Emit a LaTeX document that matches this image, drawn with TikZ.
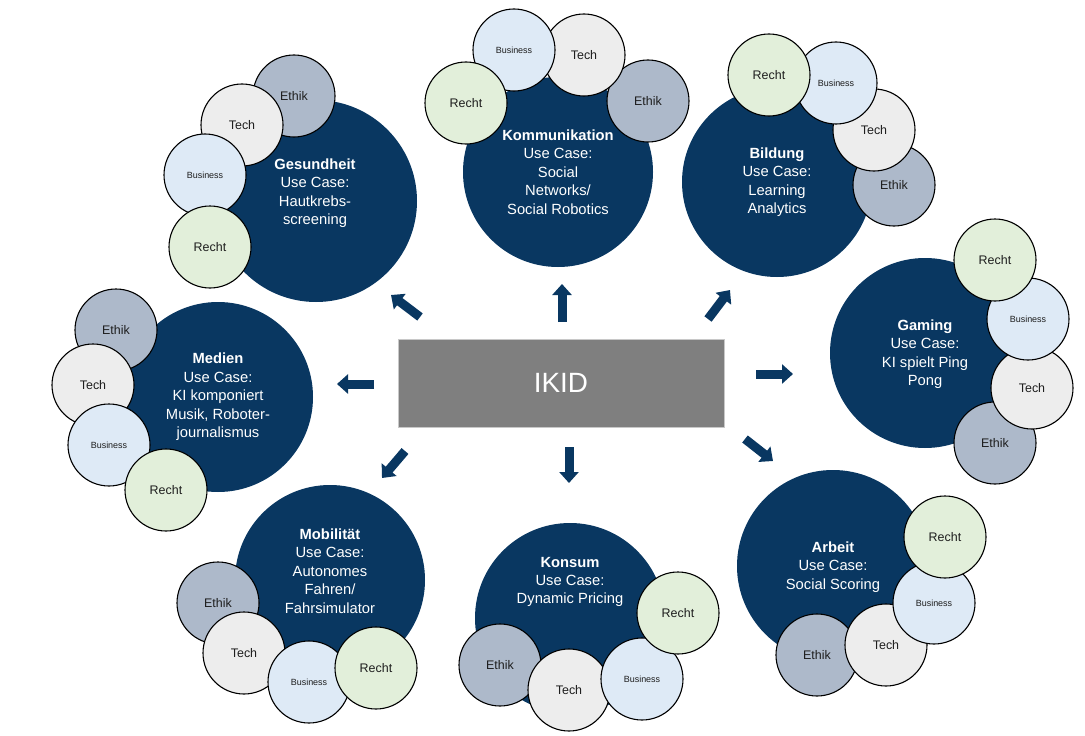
\documentclass[tikz,border=0pt]{standalone}
\usepackage{fontspec}
\setmainfont{Liberation Sans}
\usetikzlibrary{arrows.meta}
\definecolor{cNavy}{RGB}{9,55,97}
\definecolor{cRecht}{RGB}{226,239,218}
\definecolor{cBiz}{RGB}{222,234,246}
\definecolor{cTech}{RGB}{237,237,237}
\definecolor{cEthik}{RGB}{173,185,202}
\definecolor{cBox}{RGB}{127,127,127}
\definecolor{cBoxLine}{RGB}{200,200,200}
\definecolor{cLabel}{RGB}{30,30,30}
\tikzset{
  big/.style={circle, fill=cNavy, minimum size=190bp, inner sep=0pt},
  bigtext/.style={text=white, align=center, font=\fontsize{14.8}{18.5}\selectfont},
  smallc/.style={circle, draw=black, line width=1.1bp, minimum size=82bp, inner sep=0pt, text=cLabel, font=\fontsize{12.5}{14}\selectfont},
  rechtc/.style={smallc, fill=cRecht},
  bizc/.style={smallc, fill=cBiz, font=\fontsize{9}{10}\selectfont},
  techc/.style={smallc, fill=cTech},
  ethikc/.style={smallc, fill=cEthik},
  arr/.style={line width=9bp, draw=cNavy, -{Triangle[length=11bp, width=19bp]}},
}
\begin{document}
\begin{tikzpicture}[x=1bp, y=-1bp]
\useasboundingbox (0,0) rectangle (1085,736);

% big circles
\node[big, minimum size=202bp] (ges) at (316,201) {};
\node[big] (kom) at (558,172) {};
\node[big] (bil) at (777,182) {};
\node[big] (gam) at (925,353) {};
\node[big] (med) at (218,397) {};
\node[big] (mob) at (330,580) {};
\node[big] (kon) at (570,618) {};
\node[big, minimum size=192bp] (arb) at (833,566) {};

% texts of big circles
\node[bigtext] (gesT) at (315,193) {\textbf{Gesundheit}\\Use Case:\\Hautkrebs-\\screening};
\node[bigtext] (komT) at (558,172) {\textbf{Kommunikation}\\Use Case:\\Social\\Networks/\\Social Robotics};
\node[bigtext] (bilT) at (777,182) {\textbf{Bildung}\\Use Case:\\Learning\\Analytics};
\node[bigtext] (gamT) at (925,354) {\textbf{Gaming}\\Use Case:\\KI spielt Ping\\Pong};
\node[bigtext] (medT) at (218,397) {\textbf{Medien}\\Use Case:\\KI komponiert\\Musik, Roboter-\\journalismus};
\node[bigtext] (mobT) at (330,571) {\textbf{Mobilität}\\Use Case:\\Autonomes\\Fahren/\\Fahrsimulator};
\node[bigtext] (konT) at (570,582) {\textbf{Konsum}\\Use Case:\\Dynamic Pricing};
\node[bigtext] (arbT) at (833,567) {\textbf{Arbeit}\\Use Case:\\Social Scoring};

% Gesundheit
\node[ethikc] (gesE) at (294,96) {Ethik};
\node[techc] (gesTe) at (242,125) {Tech};
\node[bizc] (gesB) at (205,175) {Business};
\node[rechtc] (gesR) at (210,247) {Recht};
% Kommunikation
\node[ethikc] (komE) at (648,101) {Ethik};
\node[techc] (komTe) at (584,55) {Tech};
\node[bizc] (komB) at (514,50) {Business};
\node[rechtc] (komR) at (466,103) {Recht};
% Bildung
\node[ethikc] (bilE) at (894,185) {Ethik};
\node[techc] (bilTe) at (874,130) {Tech};
\node[bizc] (bilB) at (836,83) {Business};
\node[rechtc] (bilR) at (769,75) {Recht};
% Gaming
\node[ethikc] (gamE) at (995,443) {Ethik};
\node[techc] (gamTe) at (1032,388) {Tech};
\node[bizc] (gamB) at (1028,319) {Business};
\node[rechtc] (gamR) at (995,260) {Recht};
% Medien
\node[ethikc] (medE) at (116,330) {Ethik};
\node[techc] (medTe) at (93,385) {Tech};
\node[bizc] (medB) at (109,445) {Business};
\node[rechtc] (medR) at (166,490) {Recht};
% Mobilitaet
\node[ethikc] (mobE) at (218,603) {Ethik};
\node[techc] (mobTe) at (244,653) {Tech};
\node[bizc] (mobB) at (309,682) {Business};
\node[rechtc] (mobR) at (376,668) {Recht};
% Konsum
\node[ethikc] (konE) at (500,665) {Ethik};
\node[techc] (konTe) at (569,690) {Tech};
\node[bizc] (konB) at (642,679) {Business};
\node[rechtc] (konR) at (678,613) {Recht};
% Arbeit
\node[ethikc] (arbE) at (817,655) {Ethik};
\node[techc] (arbTe) at (886,645) {Tech};
\node[bizc] (arbB) at (934,603) {Business};
\node[rechtc] (arbR) at (945,537) {Recht};

% central box
\node[draw=cBoxLine, line width=0.8bp, fill=cBox, minimum width=326bp, minimum height=88bp, inner sep=0pt,
      text=white, font=\fontsize{28}{30}\selectfont] (ikid) at (561,383) {IKID};

% arrows
\coordinate (aGesS) at (420,317); \coordinate (aGesE) at (391,295);
\coordinate (aKomS) at (562,322); \coordinate (aKomE) at (562,284);
\coordinate (aBilS) at (708,319); \coordinate (aBilE) at (730,290);
\coordinate (aMedS) at (374,384); \coordinate (aMedE) at (337,384);
\coordinate (aGamS) at (756,374); \coordinate (aGamE) at (793,374);
\coordinate (aMobS) at (405,451); \coordinate (aMobE) at (382,478);
\coordinate (aKonS) at (569,447); \coordinate (aKonE) at (569,483);
\coordinate (aArbS) at (745,439); \coordinate (aArbE) at (773,461);
\draw[arr] (aGesS) -- (aGesE);
\draw[arr] (aKomS) -- (aKomE);
\draw[arr] (aBilS) -- (aBilE);
\draw[arr] (aMedS) -- (aMedE);
\draw[arr] (aGamS) -- (aGamE);
\draw[arr] (aMobS) -- (aMobE);
\draw[arr] (aKonS) -- (aKonE);
\draw[arr] (aArbS) -- (aArbE);
\end{tikzpicture}
\end{document}
